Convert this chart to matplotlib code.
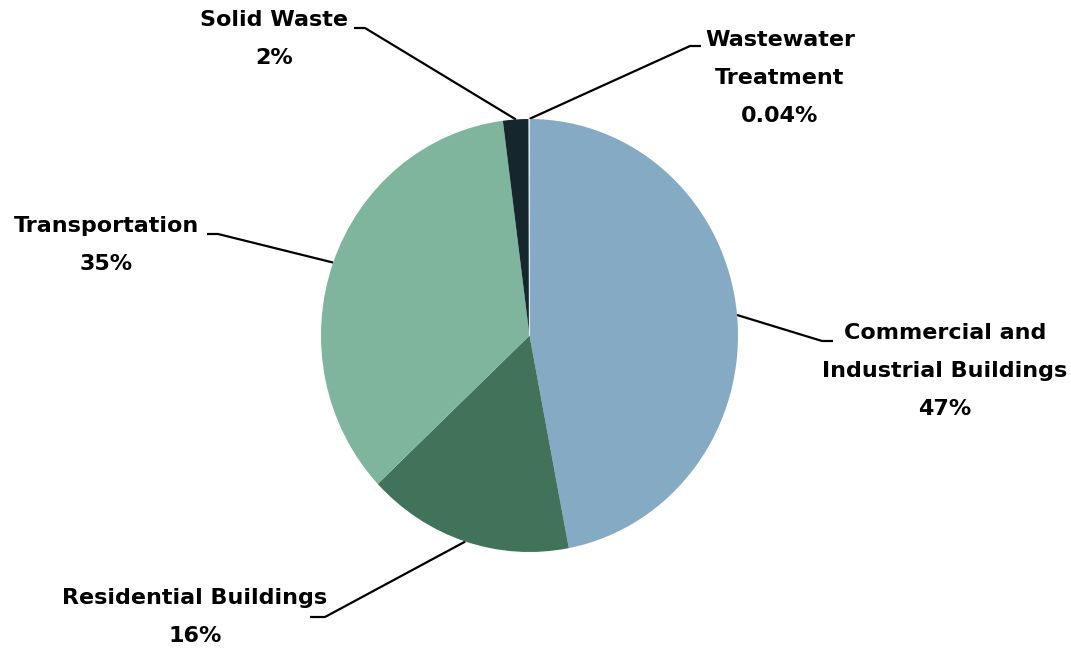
import numpy as np
import matplotlib.pyplot as plt

# Data
categories = ["Commercial and\nIndustrial Buildings", "Residential Buildings",
              "Transportation", "Solid Waste", "Wastewater\nTreatment"]
shares = [47, 16, 35, 2, 0.04]
share_labels = ["47%", "16%", "35%", "2%", "0.04%"]
colors = ["#84AAC4", "#41735B", "#7FB59C", "#15262C", "#DCE6EC"]

# Layout (pixels from top-left)
W, H = 1071, 649
pie_box = (321, 119, 738, 552)  # left, top, right, bottom
# elbow point, end of short horizontal, text center
elbows = [((822, 341), (833, 341), (945, 371)),
          ((325, 617), (310, 617), (195, 617)),
          ((218, 234), (207, 234), (106, 245)),
          ((365, 28), (354, 28), (274, 39)),
          ((690, 46), (701, 46), (780, 78))]

plt.rcParams['font.family'] = ['DejaVu Sans']

fig = plt.figure(figsize=(W / 100, H / 100), dpi=100)

# overlay axes in pixel coordinates for connectors and labels
ax = fig.add_axes([0, 0, 1, 1])
ax.set_xlim(0, W)
ax.set_ylim(H, 0)
ax.axis('off')

# pie axes filling the (slightly elliptical) pie box
l, t, r, b = pie_box
pax = fig.add_axes([l / W, 1 - b / H, (r - l) / W, (b - t) / H])
wedges, _ = pax.pie(shares, colors=colors, startangle=90, counterclock=False,
                    radius=1, wedgeprops=dict(linewidth=0))
wedges[-1].set_edgecolor(colors[-1])
wedges[-1].set_linewidth(0.8)
pax.set_xlim(-1, 1)
pax.set_ylim(-1, 1)
pax.set_aspect('auto')
pax.axis('off')

cx, cy = (l + r) / 2, (t + b) / 2
rx, ry = (r - l) / 2, (b - t) / 2
for w, (elbow, end, tpos), cat, lab in zip(wedges, elbows, categories, share_labels):
    mid = np.deg2rad((w.theta1 + w.theta2) / 2)
    start = (cx + rx * np.cos(mid), cy - ry * np.sin(mid))
    ax.plot([start[0], elbow[0], end[0]], [start[1], elbow[1], end[1]],
            color='black', linewidth=1.6, solid_capstyle='butt')
    ax.text(tpos[0], tpos[1], cat + "\n" + lab, ha='center', va='center',
            fontsize=16, fontweight='bold', linespacing=2.15, color='black')

fig.savefig("out.png", dpi=100, facecolor='white')
